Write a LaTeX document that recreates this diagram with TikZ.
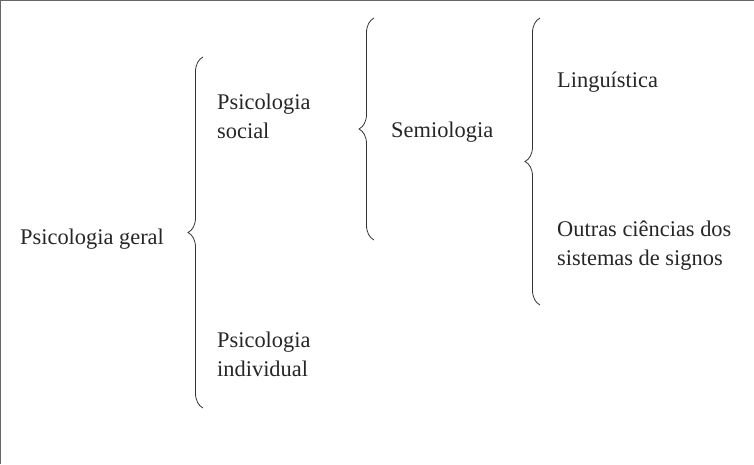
\documentclass[tikz,border=0pt]{standalone}
\usepackage{fontspec}
\setmainfont{Liberation Serif}
\usetikzlibrary{decorations.pathreplacing}
\begin{document}
\begin{tikzpicture}[x=1pt,y=-1pt,
  lbl/.style={inner sep=0pt, anchor=base west, align=left, font=\fontsize{22.4}{28.5}\selectfont, text=black!85},
  brc/.style={decorate, decoration={brace, amplitude=15pt}, line width=0.8pt, draw=black!80}]
\useasboundingbox (0,0) rectangle (754,464);
\draw[line width=1.2pt, black!60] (0.8,464) -- (0.8,0.8) -- (754,0.8);
% labels
\node[lbl] (geral) at (20,244) {Psicologia geral};
\node[lbl] (social) at (217,138) {Psicologia\\social};
\node[lbl] (indiv) at (217,376) {Psicologia\\individual};
\node[lbl] (semio) at (391,137) {Semiologia};
\node[lbl] (ling) at (557,87) {Linguística};
\node[lbl] (outras) at (557,265) {Outras ciências dos\\sistemas de signos};
% braces
\coordinate (b1s) at (203,408);
\coordinate (b1e) at (203,57);
\coordinate (b2s) at (374,240);
\coordinate (b2e) at (374,18);
\coordinate (b3s) at (540,305);
\coordinate (b3e) at (540,18);
\draw[brc] (b1s) -- (b1e);
\draw[brc] (b2s) -- (b2e);
\draw[brc] (b3s) -- (b3e);
\end{tikzpicture}
\end{document}
